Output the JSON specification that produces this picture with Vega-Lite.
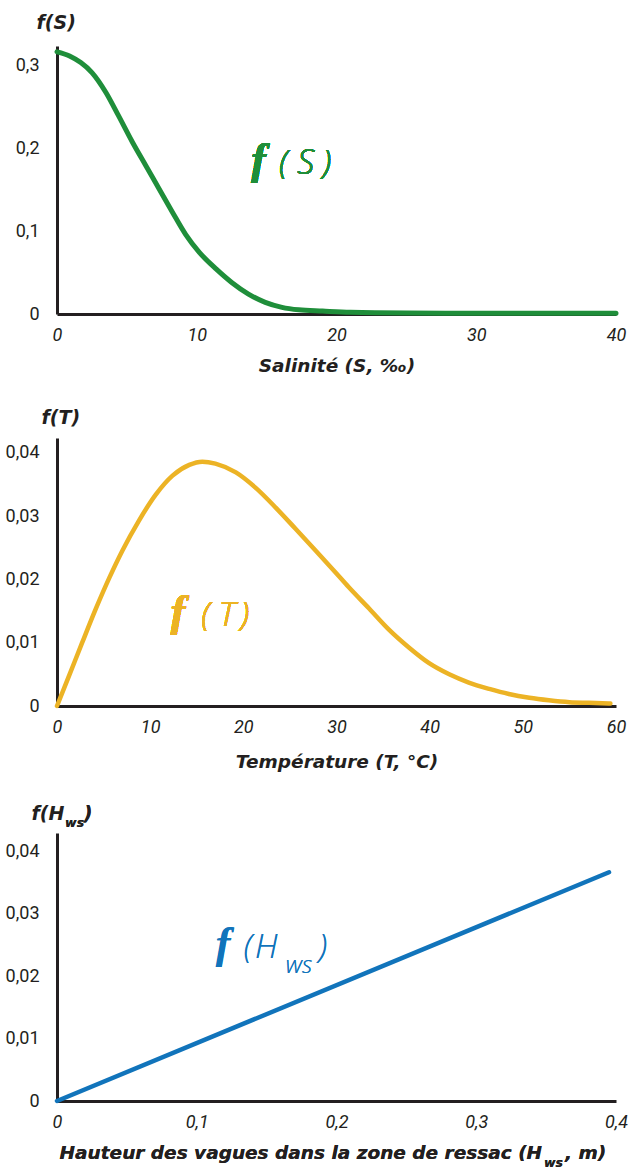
{
  "$schema": "https://vega.github.io/schema/vega-lite/v6.json",
  "padding": {"left": 5, "top": 13, "right": 2, "bottom": 5},
  "spacing": 33,
  "config": {
    "view": {"stroke": null},
    "font": "Roboto, sans-serif",
    "text": {"font": "DejaVu Sans"},
    "axis": {
      "grid": false,
      "ticks": false,
      "tickSize": 0,
      "domainColor": "#231f20",
      "domainWidth": 3,
      "labelColor": "#231f20",
      "labelFontSize": 18,
      "labelFont": "Roboto",
      "titleFont": "DejaVu Sans",
      "titleFontSize": 18.5,
      "titleFontStyle": "italic",
      "titleFontWeight": "bold",
      "titleColor": "#231f20",
      "labelExpr": "replace(format(datum.value, '~g'), '.', ',')"
    },
    "axisX": {"labelFontStyle": "italic", "labelPadding": 12, "labelFlush": false},
    "axisY": {"labelPadding": 18, "titleAngle": 0, "titleAlign": "left", "titleBaseline": "alphabetic", "titleFontSize": 19}
  },
  "vconcat": [
    {
      "width": 559,
      "height": 268,
      "data": {"values": [
        {"S": 0, "f": 0.316}, {"S": 0.9, "f": 0.311}, {"S": 1.7, "f": 0.303}, {"S": 2.5, "f": 0.291},
        {"S": 3.5, "f": 0.267}, {"S": 4.4, "f": 0.239}, {"S": 5.4, "f": 0.207}, {"S": 6.35, "f": 0.179},
        {"S": 7.3, "f": 0.151}, {"S": 8.25, "f": 0.123}, {"S": 9.2, "f": 0.096}, {"S": 10.2, "f": 0.074},
        {"S": 11.4, "f": 0.054}, {"S": 12.5, "f": 0.038}, {"S": 13.7, "f": 0.024}, {"S": 14.9, "f": 0.014},
        {"S": 16.1, "f": 0.008}, {"S": 17.3, "f": 0.005}, {"S": 19, "f": 0.0035}, {"S": 21, "f": 0.002},
        {"S": 25, "f": 0.0012}, {"S": 30, "f": 0.001}, {"S": 35, "f": 0.001}, {"S": 40, "f": 0.001}
      ]},
      "layer": [
        {
          "mark": {"type": "line", "color": "#1f8e3a", "strokeWidth": 5, "interpolate": "monotone", "strokeCap": "round"},
          "encoding": {
            "x": {"field": "S", "type": "quantitative", "scale": {"domain": [0, 40], "nice": false},
                  "axis": {"values": [0, 10, 20, 30, 40], "title": "Salinité (S, ‰)", "titlePadding": 12}},
            "y": {"field": "f", "type": "quantitative", "scale": {"domain": [0, 0.323], "nice": false},
                  "axis": {"values": [0, 0.1, 0.2, 0.3], "title": "f(S)", "titleX": -21, "titleY": -18}}
          }
        },
        {"mark": {"type": "text", "text": "f", "font": "Liberation Serif", "fontSize": 44, "fontStyle": "italic", "fontWeight": "bold", "color": "#1f8e3a", "align": "left", "baseline": "alphabetic"},
         "encoding": {"x": {"datum": 13.9}, "y": {"datum": 0.1687}}},
        {"mark": {"type": "text", "text": "(", "font": "Open Sans", "fontSize": 33, "fontStyle": "italic", "fontWeight": 300, "color": "#1f8e3a", "align": "left", "baseline": "alphabetic"},
         "encoding": {"x": {"datum": 15.9}, "y": {"datum": 0.1687}}},
        {"mark": {"type": "text", "text": "S", "font": "Open Sans", "fontSize": 34, "fontStyle": "italic", "fontWeight": 300, "color": "#1f8e3a", "align": "left", "baseline": "alphabetic"},
         "encoding": {"x": {"datum": 17.2}, "y": {"datum": 0.1687}}},
        {"mark": {"type": "text", "text": ")", "font": "Open Sans", "fontSize": 33, "fontStyle": "italic", "fontWeight": 300, "color": "#1f8e3a", "align": "left", "baseline": "alphabetic"},
         "encoding": {"x": {"datum": 19.0}, "y": {"datum": 0.1687}}}
      ]
    },
    {
      "width": 559,
      "height": 268,
      "data": {"values": [
        {"T": 0, "f": 0}, {"T": 1.3, "f": 0.0048}, {"T": 2.7, "f": 0.0100}, {"T": 4.15, "f": 0.0153},
        {"T": 5.6, "f": 0.0202}, {"T": 7.0, "f": 0.0245}, {"T": 8.8, "f": 0.0293}, {"T": 10.6, "f": 0.0334},
        {"T": 12.4, "f": 0.0364}, {"T": 14.2, "f": 0.0381}, {"T": 15.6, "f": 0.0386}, {"T": 17.0, "f": 0.0383},
        {"T": 19.2, "f": 0.0369}, {"T": 21.3, "f": 0.0345}, {"T": 23.5, "f": 0.0313}, {"T": 25.6, "f": 0.0280},
        {"T": 27.8, "f": 0.0245}, {"T": 29.9, "f": 0.0211}, {"T": 31.3, "f": 0.0188}, {"T": 33.5, "f": 0.0154},
        {"T": 35.6, "f": 0.0121}, {"T": 37.8, "f": 0.0092}, {"T": 39.9, "f": 0.0068}, {"T": 42.1, "f": 0.0050},
        {"T": 44.2, "f": 0.0037}, {"T": 46.4, "f": 0.0027}, {"T": 48.5, "f": 0.0019}, {"T": 50.7, "f": 0.0013},
        {"T": 52.8, "f": 0.0009}, {"T": 55, "f": 0.0006}, {"T": 57.1, "f": 0.0005}, {"T": 59.4, "f": 0.0004}
      ]},
      "layer": [
        {
          "mark": {"type": "line", "color": "#ecb325", "strokeWidth": 4.5, "interpolate": "monotone", "strokeCap": "round"},
          "encoding": {
            "x": {"field": "T", "type": "quantitative", "scale": {"domain": [0, 60], "nice": false},
                  "axis": {"values": [0, 10, 20, 30, 40, 50, 60], "title": "Température (T, °C)", "titlePadding": 16}},
            "y": {"field": "f", "type": "quantitative", "scale": {"domain": [0, 0.04234], "nice": false},
                  "axis": {"values": [0, 0.01, 0.02, 0.03, 0.04], "title": "f(T)", "titleX": -16, "titleY": -15}}
          }
        },
        {"mark": {"type": "text", "text": "f", "font": "Liberation Serif", "fontSize": 44, "fontStyle": "italic", "fontWeight": "bold", "color": "#ecb325", "align": "left", "baseline": "alphabetic"},
         "encoding": {"x": {"datum": 12.2}, "y": {"datum": 0.01269}}},
        {"mark": {"type": "text", "text": "(", "font": "Open Sans", "fontSize": 33, "fontStyle": "italic", "fontWeight": 300, "color": "#ecb325", "align": "left", "baseline": "alphabetic"},
         "encoding": {"x": {"datum": 15.5}, "y": {"datum": 0.01269}}},
        {"mark": {"type": "text", "text": "T", "font": "Open Sans", "fontSize": 33, "fontStyle": "italic", "fontWeight": 300, "color": "#ecb325", "align": "left", "baseline": "alphabetic"},
         "encoding": {"x": {"datum": 17.4}, "y": {"datum": 0.01269}}},
        {"mark": {"type": "text", "text": ")", "font": "Open Sans", "fontSize": 33, "fontStyle": "italic", "fontWeight": 300, "color": "#ecb325", "align": "left", "baseline": "alphabetic"},
         "encoding": {"x": {"datum": 19.7}, "y": {"datum": 0.01269}}}
      ]
    },
    {
      "width": 559,
      "height": 268,
      "data": {"values": [
        {"H": 0, "f": 0}, {"H": 0.395, "f": 0.0366}
      ]},
      "layer": [
        {
          "mark": {"type": "line", "color": "#1174bb", "strokeWidth": 4.5, "strokeCap": "round"},
          "encoding": {
            "x": {"field": "H", "type": "quantitative", "scale": {"domain": [0, 0.4], "nice": false},
                  "axis": {"values": [0, 0.1, 0.2, 0.3, 0.4], "title": null}},
            "y": {"field": "f", "type": "quantitative", "scale": {"domain": [0, 0.04288], "nice": false},
                  "axis": {"values": [0, 0.01, 0.02, 0.03, 0.04], "title": "f(H", "titleX": -26, "titleY": -14}}
          }
        },
        {"mark": {"type": "text", "text": "ws", "fontSize": 12.5, "fontStyle": "italic", "fontWeight": "bold", "color": "#231f20", "align": "left", "baseline": "alphabetic"},
         "encoding": {"x": {"datum": 0.0058}, "y": {"datum": 0.0438}}},
        {"mark": {"type": "text", "text": ")", "fontSize": 19, "fontStyle": "italic", "fontWeight": "bold", "color": "#231f20", "align": "left", "baseline": "alphabetic"},
         "encoding": {"x": {"datum": 0.0192}, "y": {"datum": 0.0450}}},
        {"mark": {"type": "text", "text": "Hauteur des vagues dans la zone de ressac (H", "fontSize": 18.5, "fontStyle": "italic", "fontWeight": "bold", "color": "#231f20", "align": "right", "baseline": "alphabetic"},
         "encoding": {"x": {"datum": 0.3471}, "y": {"datum": -0.00928}}},
        {"mark": {"type": "text", "text": "ws", "fontSize": 12.5, "fontStyle": "italic", "fontWeight": "bold", "color": "#231f20", "align": "left", "baseline": "alphabetic"},
         "encoding": {"x": {"datum": 0.3485}, "y": {"datum": -0.01056}}},
        {"mark": {"type": "text", "text": ", m)", "fontSize": 18.5, "fontStyle": "italic", "fontWeight": "bold", "color": "#231f20", "align": "left", "baseline": "alphabetic"},
         "encoding": {"x": {"datum": 0.3635}, "y": {"datum": -0.00928}}},
        {"mark": {"type": "text", "text": "f", "font": "Liberation Serif", "fontSize": 44, "fontStyle": "italic", "fontWeight": "bold", "color": "#1174bb", "align": "left", "baseline": "alphabetic"},
         "encoding": {"x": {"datum": 0.1136}, "y": {"datum": 0.0229}}},
        {"mark": {"type": "text", "text": "(", "font": "Open Sans", "fontSize": 33, "fontStyle": "italic", "fontWeight": 300, "color": "#1174bb", "align": "left", "baseline": "alphabetic"},
         "encoding": {"x": {"datum": 0.1337}, "y": {"datum": 0.0229}}},
        {"mark": {"type": "text", "text": "H", "font": "Open Sans", "fontSize": 33, "fontStyle": "italic", "fontWeight": 300, "color": "#1174bb", "align": "left", "baseline": "alphabetic"},
         "encoding": {"x": {"datum": 0.1416}, "y": {"datum": 0.0229}}},
        {"mark": {"type": "text", "text": "ws", "font": "Open Sans", "fontSize": 24, "fontStyle": "italic", "fontWeight": 300, "color": "#1174bb", "align": "left", "baseline": "alphabetic"},
         "encoding": {"x": {"datum": 0.1636}, "y": {"datum": 0.0205}}},
        {"mark": {"type": "text", "text": ")", "font": "Open Sans", "fontSize": 33, "fontStyle": "italic", "fontWeight": 300, "color": "#1174bb", "align": "left", "baseline": "alphabetic"},
         "encoding": {"x": {"datum": 0.1871}, "y": {"datum": 0.0229}}}
      ]
    }
  ]
}
